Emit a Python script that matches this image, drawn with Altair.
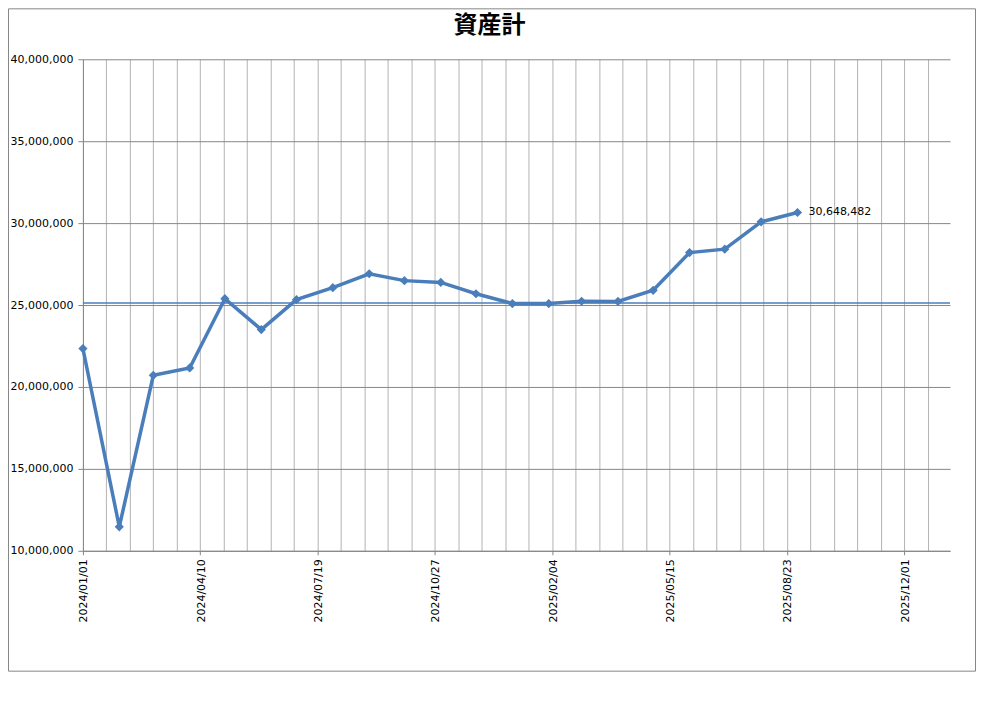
import altair as alt
import pandas as pd
from datetime import datetime, timezone

# ---- data ----
title_text = "資産計"
dates = [
    "2024-01-01", "2024-02-01", "2024-03-01", "2024-04-01", "2024-05-01", "2024-06-01",
    "2024-07-01", "2024-08-01", "2024-09-01", "2024-10-01", "2024-11-01", "2024-12-01",
    "2025-01-01", "2025-02-01", "2025-03-01", "2025-04-01", "2025-05-01", "2025-06-01",
    "2025-07-01", "2025-08-01", "2025-09-01",
]
values = [
    22340000, 11460000, 20710000, 21160000, 25390000, 23500000,
    25330000, 26060000, 26910000, 26490000, 26380000, 25690000,
    25090000, 25090000, 25230000, 25220000, 25900000, 28200000,
    28410000, 30080000, 30648482,
]
ref_line_value = [25120000]
y_ticks = [10000000, 15000000, 20000000, 25000000, 30000000, 35000000, 40000000]

# x axis: gridlines every 20 days, labels every 100 days from 2024/01/01
DAY_MS = 86400000
start_ms = int(datetime(2024, 1, 1, tzinfo=timezone.utc).timestamp() * 1000)
x_grid_values = [start_ms + i * 20 * DAY_MS for i in range(0, 37)]
x_domain = [
    alt.DateTime(year=2024, month=1, date=1, utc=True),
    alt.DateTime(year=2026, month=1, date=9, utc=True),
]

df = pd.DataFrame({"date": dates, "value": values})
df_last = df.tail(1)
df_ref = pd.DataFrame({"ref": ref_line_value})

BLUE = "#4A7EBB"
FONT = "DejaVu Sans"

label_test = f"(datum.value - {start_ms}) % {100 * DAY_MS} === 0"

x_scale = alt.Scale(type="utc", domain=x_domain, nice=False)
x_axis = alt.Axis(
    values=x_grid_values,
    tickCount=100,
    labelExpr=f"{label_test} ? utcFormat(datum.value, '%Y/%m/%d') : ''",
    labelAngle=-90,
    labelOverlap=False,
    labelFlush=False,
    labelPadding=4,
    labelOffset=1,
    labelFont=FONT,
    labelFontSize=11,
    labelColor="#000000",
    tickSize=4,
    tickColor="#868686",
    tickOpacity={"condition": {"test": label_test, "value": 1}, "value": 0},
    grid=True,
    gridColor="#b3b3b3",
    gridWidth=1,
    domainColor="#868686",
    title=None,
)

y_scale = alt.Scale(domain=[10000000, 40000000], nice=False, zero=False)
y_axis = alt.Axis(
    values=y_ticks,
    format=",d",
    labelFont=FONT,
    labelFontSize=11,
    labelColor="#000000",
    labelPadding=5,
    tickSize=5,
    tickColor="#868686",
    grid=True,
    gridColor="#878787",
    gridWidth=1,
    domainColor="#868686",
    title=None,
)

W, H = 868, 492
PAD = {"left": 75, "top": 51, "right": 26, "bottom": 121}

base = alt.Chart(df)

line = base.mark_line(color=BLUE, strokeWidth=3.5).encode(
    x=alt.X("date:T", scale=x_scale, axis=x_axis),
    y=alt.Y("value:Q", scale=y_scale, axis=y_axis),
)
points = base.mark_point(
    shape="diamond", filled=True, size=85, color=BLUE, opacity=1
).encode(
    x=alt.X("date:T", scale=x_scale, axis=x_axis),
    y=alt.Y("value:Q", scale=y_scale, axis=y_axis),
)

ref_rule = alt.Chart(df_ref).mark_rule(color=BLUE, strokeWidth=1.5).encode(
    y=alt.Y("ref:Q", scale=y_scale, axis=y_axis)
)

last_text = alt.Chart(df_last).mark_text(
    align="left", baseline="middle", dx=11, font=FONT, fontSize=11, color="#000000"
).encode(
    x=alt.X("date:T", scale=x_scale, axis=x_axis),
    y=alt.Y("value:Q", scale=y_scale, axis=y_axis),
    text=alt.Text("value:Q", format=",d"),
)

title_mark = alt.Chart(alt.Data(values=[{"t": title_text}])).mark_text(
    font="Noto Sans CJK JP", fontSize=24, fontWeight="bold", color="#000000",
    align="center", baseline="middle",
).encode(
    text="t:N",
    x=alt.value(407),
    y=alt.value(-33),
)

border = alt.Chart(alt.Data(values=[{}])).mark_rect(
    fillOpacity=0, stroke="#868686", strokeWidth=1
).encode(
    x=alt.value(-PAD["left"] + 0.5),
    x2=alt.value(W + PAD["right"] - 0.5),
    y=alt.value(-PAD["top"] + 0.5),
    y2=alt.value(H + PAD["bottom"] - 0.5),
)

chart = alt.layer(ref_rule, line, points, last_text, title_mark, border).properties(
    width=W,
    height=H,
    autosize=alt.AutoSizeParams(type="none"),
    padding=PAD,
    background="#ffffff",
).configure_view(stroke=None)

chart.save("out.html", embed_options={"renderer": "svg", "actions": False})
